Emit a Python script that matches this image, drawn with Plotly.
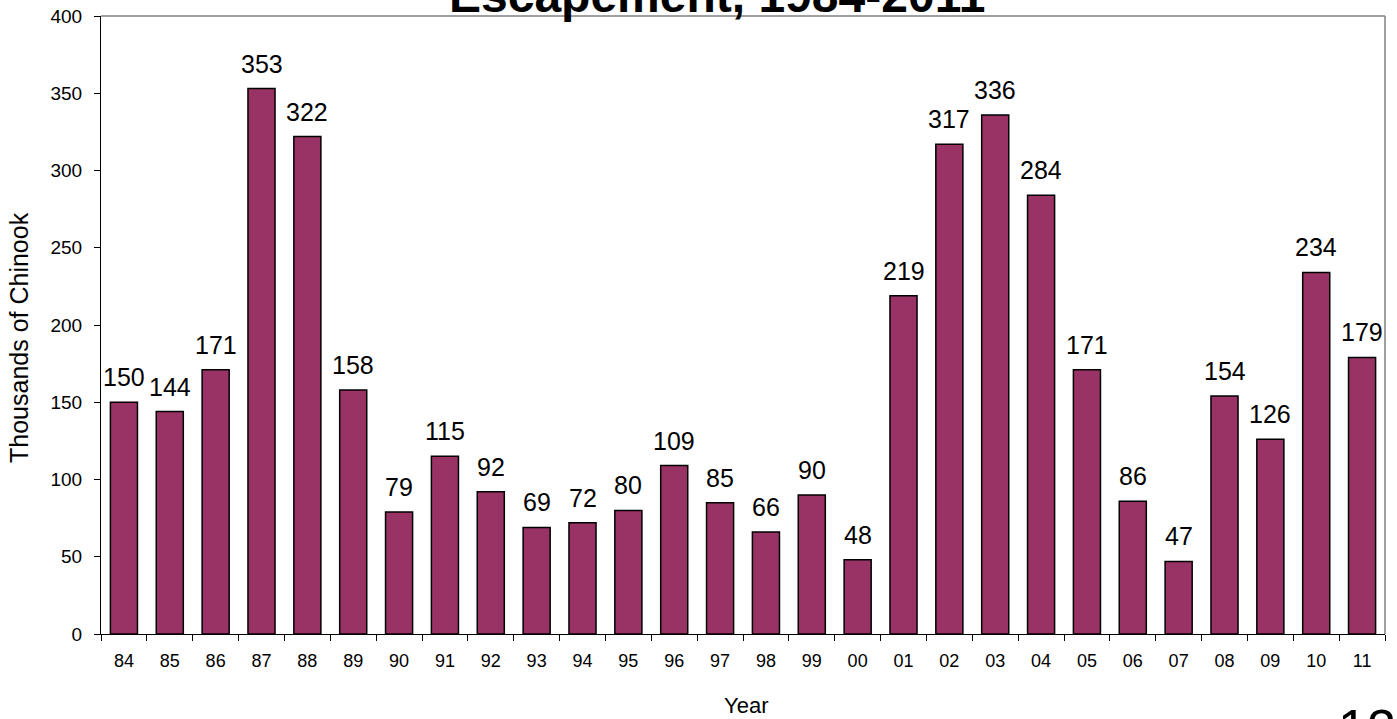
import plotly.graph_objects as go

years = ["84","85","86","87","88","89","90","91","92","93","94","95","96","97",
         "98","99","00","01","02","03","04","05","06","07","08","09","10","11"]
escapement = [150,144,171,353,322,158,79,115,92,69,72,80,109,85,
              66,90,48,219,317,336,284,171,86,47,154,126,234,179]
title_text = "Escapement, 1984-2011"
y_title = "Thousands of Chinook"
x_title = "Year"
page_no = "12"

FONT = "Liberation Sans, Arial, sans-serif"

fig = go.Figure()
fig.add_trace(go.Bar(
    x=years, y=escapement,
    marker=dict(color="#993366", line=dict(color="black", width=1.5)),
    width=0.59,
    hoverinfo="x+y",
))

annotations = []
for i, v in enumerate(escapement):
    annotations.append(dict(
        x=i, y=v, xref="x", yref="y", text=str(v), showarrow=False,
        xanchor="center", yanchor="bottom", yshift=9,
        font=dict(size=25, color="black", family=FONT)))

annotations += [
    dict(text="<b>" + title_text + "</b>", xref="paper", yref="paper",
         x=0, xshift=717 - 101, y=1, yshift=-8, xanchor="center", yanchor="bottom",
         showarrow=False, font=dict(size=48, color="black", family=FONT)),
    dict(text=page_no, xref="paper", yref="paper", x=1, xshift=13,
         y=0, yshift=-63, xanchor="right", yanchor="top",
         showarrow=False, font=dict(size=52, color="black", family=FONT)),
    dict(text=y_title, xref="paper", yref="paper", x=0, xshift=-82,
         y=0.5, yshift=-13, xanchor="center", yanchor="middle", textangle=-90,
         showarrow=False, font=dict(size=25, color="black", family=FONT)),
    dict(text=x_title, xref="paper", yref="paper", x=0, xshift=746 - 101,
         y=0, yshift=-71, xanchor="center", yanchor="middle",
         showarrow=False, font=dict(size=22, color="black", family=FONT)),
]

fig.update_layout(
    width=1397, height=719,
    margin=dict(l=101, r=12, t=16, b=85),
    paper_bgcolor="white", plot_bgcolor="white",
    showlegend=False,
    font=dict(family=FONT, color="black"),
    xaxis=dict(
        type="category", range=[-0.5, len(years) - 0.5],
        showline=True, linecolor="black", linewidth=1,
        ticks="outside", ticklen=6, tickcolor="black", tickson="boundaries",
        tickfont=dict(size=18), tickangle=0, ticklabelstandoff=10,
        showgrid=False, automargin=False,
    ),
    yaxis=dict(
        range=[0, 400], dtick=50, showline=True, linecolor="black", linewidth=1,
        ticks="outside", ticklen=6, tickcolor="black",
        tickfont=dict(size=19), ticklabelstandoff=8,
        showgrid=False, zeroline=False, automargin=False,
    ),
    shapes=[
        dict(type="line", xref="paper", yref="paper", x0=0, x1=1, y0=1, y1=1,
             line=dict(color="#808080", width=1.5)),
        dict(type="line", xref="paper", yref="paper", x0=1, x1=1, y0=0, y1=1,
             line=dict(color="#808080", width=1.5)),
    ],
    annotations=annotations,
)

fig.write_html("out.html",
               config={"displayModeBar": False},
               post_script="document.body.style.margin='0px';"
                           "document.documentElement.style.overflow='hidden';")
